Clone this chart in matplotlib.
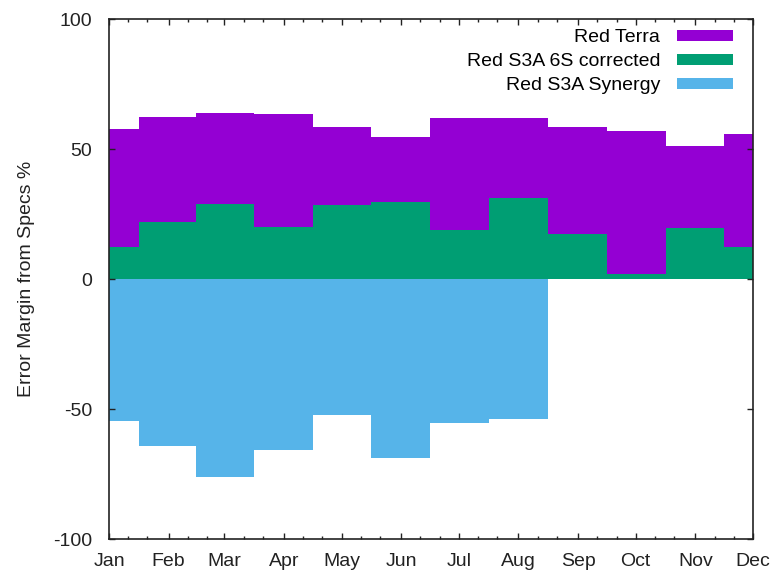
import datetime as dt
import matplotlib
matplotlib.use("Agg")
import matplotlib.pyplot as plt
import matplotlib.dates as mdates
import numpy as np

plt.rcParams['font.family'] = ['Liberation Sans', 'DejaVu Sans']
plt.rcParams['axes.unicode_minus'] = False

# monthly data (first of each month, leap year axis)
months = [dt.date(2020, m, 1) for m in range(1, 13)]
red_terra = [57.6, 62.3, 63.7, 63.5, 58.5, 54.8, 61.9, 61.9, 58.5, 57.1, 51.2, 55.7]
red_s3a_6s = [12.5, 22.1, 29.0, 20.1, 28.5, 29.6, 18.8, 31.0, 17.4, 2.1, 19.6, 12.5]
red_s3a_syn = [-54.7, -64.3, -76.1, -65.7, -52.3, -68.9, -55.2, -53.8]

labels = ['Red Terra', 'Red S3A 6S corrected', 'Red S3A Synergy']
colors = ['#9400d3', '#009e73', '#56b4e9']


def step_edges(dates):
    # histeps: steps centred on the data points
    x = mdates.date2num(dates)
    mid = (x[1:] + x[:-1]) / 2
    first = x[0] - (x[1] - x[0]) / 2
    last = x[-1] + (x[-1] - x[-2]) / 2
    return np.concatenate([[first], mid, [last]])


fig = plt.figure(figsize=(7.75, 5.76), dpi=100)
ax = fig.add_axes([109/775, 1 - 539/576, 644/775, 520/576])

series = [red_terra, red_s3a_6s, red_s3a_syn]
for vals, lab, col in zip(series, labels, colors):
    d = months[:len(vals)]
    ax.stairs(vals, step_edges(d), baseline=0, fill=True, color=col, label=lab,
              linewidth=0)

ax.xaxis_date()
ax.set_xlim(mdates.date2num(dt.date(2020, 1, 1)), mdates.date2num(dt.date(2020, 12, 1)))
ax.set_ylim(-100, 100)
ax.xaxis.set_major_locator(mdates.MonthLocator())
ax.xaxis.set_minor_locator(mdates.DayLocator(bymonthday=[11, 21]))
ax.xaxis.set_major_formatter(mdates.DateFormatter('%b'))
ax.set_yticks([-100, -50, 0, 50, 100])

ax.tick_params(which='both', direction='in', top=True, right=True,
               labelsize=14, colors='#222222')
ax.tick_params(which='major', length=4, width=1)
ax.tick_params(which='minor', length=2.5, width=1)
ax.tick_params(axis='x', pad=10)
ax.tick_params(axis='y', pad=12)
for s in ax.spines.values():
    s.set_linewidth(1.2)
    s.set_color('#222222')

ax.set_ylabel('Error Margin from Specs %', fontsize=14, color='#222222')
ax.yaxis.set_label_coords(-0.115, 0.5)

ax.legend(loc='upper right', frameon=False, markerfirst=False, fontsize=14,
          handlelength=2.9, handleheight=0.57, labelspacing=0.36,
          handletextpad=0.85, borderaxespad=0, bbox_to_anchor=(0.981, 0.995))

fig.savefig('out.png', dpi=100)
